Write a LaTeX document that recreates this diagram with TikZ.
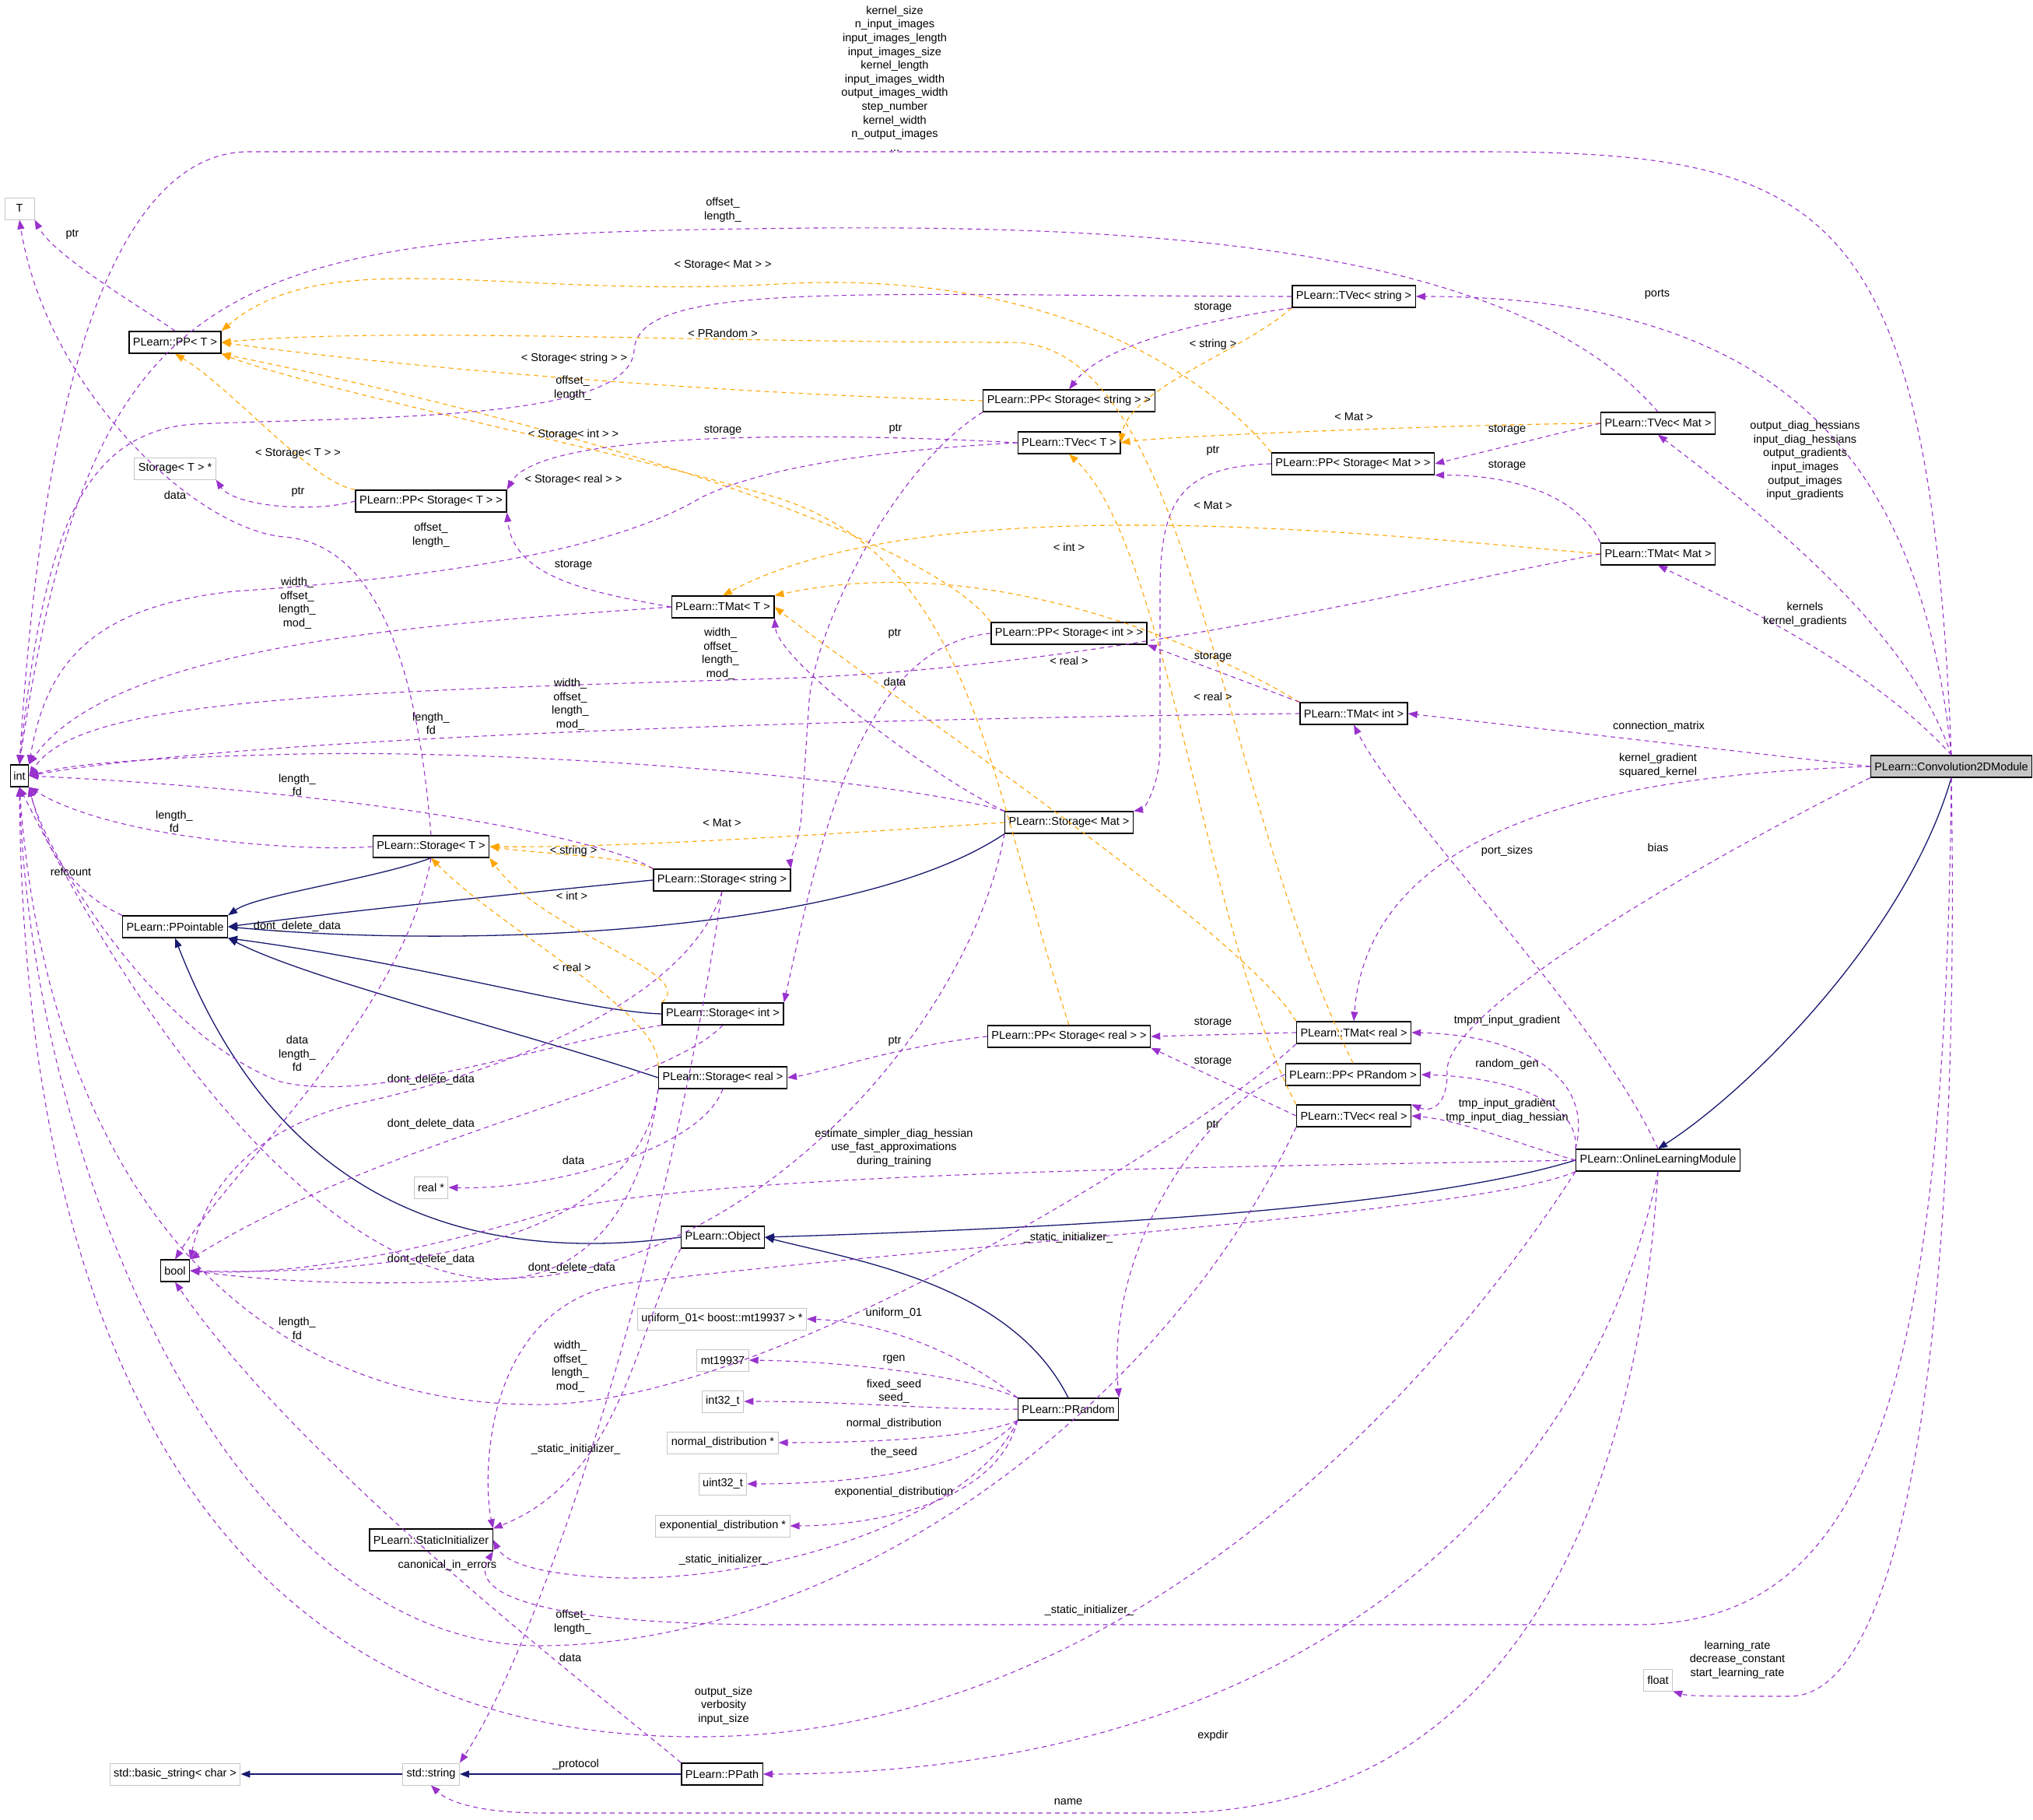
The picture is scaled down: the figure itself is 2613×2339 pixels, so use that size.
\documentclass[tikz,border=0pt]{standalone}
\usepackage{fontspec}
\setmainfont{Liberation Sans}
\usetikzlibrary{arrows.meta}
\definecolor{mc}{RGB}{153,50,204}
\definecolor{oc}{RGB}{255,165,0}
\definecolor{nc}{RGB}{25,25,112}
\newcommand\fs{\fontsize{14.5}{17.6}\selectfont}
\begin{document}
\begin{tikzpicture}[x=1pt,y=-1pt,
 box/.style={draw=black,line width=1.3pt,fill=white,inner sep=5pt,minimum height=28pt,font=\fs},
 gbox/.style={box,draw=gray!45,line width=1pt},
 mem/.style={draw=mc,line width=1.1pt,dash pattern=on 6pt off 5pt,-{Triangle[length=12pt,width=9pt,fill=mc]}},
 tpl/.style={draw=oc,line width=1.1pt,dash pattern=on 6pt off 5pt,-{Triangle[length=12pt,width=9pt,fill=oc]}},
 inh/.style={draw=nc,line width=1.3pt,-{Triangle[length=12pt,width=9pt,fill=nc]}},
 lb/.style={font=\fs,align=center,inner sep=0pt}]
\useasboundingbox[fill=white] (0,0) rectangle (2613,2339);
% nodes
\node[gbox,inner sep=4pt,minimum width=38pt] (T) at (25,268) {T};
\node[box] (ppT) at (225,440) {PLearn::PP< T >};
\node[gbox] (ptrT) at (225,602) {Storage< T > *};
\node[box] (ppsT) at (554,644) {PLearn::PP< Storage< T > >};
\node[box,inner sep=4pt] (int) at (25,997) {int};
\node[box] (pptbl) at (225,1191) {PLearn::PPointable};
\node[box] (bool) at (225,1633) {bool};
\node[box] (SI) at (554,1979) {PLearn::StaticInitializer};
\node[gbox] (bstr) at (225,2280) {std::basic\_string< char >};
\node[gbox] (str) at (554,2280) {std::string};
\node[box] (ppath) at (928,2280) {PLearn::PPath};
\node[box] (stT) at (554,1088) {PLearn::Storage< T >};
\node[box] (ststr) at (928,1131) {PLearn::Storage< string >};
\node[box] (stint) at (929,1303) {PLearn::Storage< int >};
\node[box] (streal) at (929,1385) {PLearn::Storage< real >};
\node[gbox] (realp) at (554,1526) {real *};
\node[box] (obj) at (929,1590) {PLearn::Object};
\node[gbox] (u01) at (928,1695) {uniform\_01< boost::mt19937 > *};
\node[gbox] (mt) at (929,1748) {mt19937};
\node[gbox] (i32) at (929,1801) {int32\_t};
\node[gbox] (nd) at (929,1854) {normal\_distribution *};
\node[gbox] (u32) at (929,1907) {uint32\_t};
\node[gbox] (ed) at (929,1961) {exponential\_distribution *};
\node[box] (prand) at (1373,1811) {PLearn::PRandom};
\node[box] (tmatT) at (929,780) {PLearn::TMat< T >};
\node[box] (ppsint) at (1374,814) {PLearn::PP< Storage< int > >};
\node[box] (stmat) at (1374,1057) {PLearn::Storage< Mat >};
\node[box] (ppsreal) at (1374,1332) {PLearn::PP< Storage< real > >};
\node[box] (ppsstr) at (1374,515) {PLearn::PP< Storage< string > >};
\node[box] (tvT) at (1374,569) {PLearn::TVec< T >};
\node[box] (tvstr) at (1740,381) {PLearn::TVec< string >};
\node[box] (ppsmat) at (1739,596) {PLearn::PP< Storage< Mat > >};
\node[box] (tvmat) at (2131,544) {PLearn::TVec< Mat >};
\node[box] (tmatmat) at (2131,712) {PLearn::TMat< Mat >};
\node[box] (tmatint) at (1740,917) {PLearn::TMat< int >};
\node[box] (tmatreal) at (1740,1327) {PLearn::TMat< real >};
\node[box] (ppPR) at (1739,1381) {PLearn::PP< PRandom >};
\node[box] (tvreal) at (1740,1434) {PLearn::TVec< real >};
\node[box] (olm) at (2131,1491) {PLearn::OnlineLearningModule};
\node[box,fill=gray!45] (conv) at (2508,985) {PLearn::Convolution2DModule};
\node[gbox] (float) at (2131,2159) {float};
% navy inheritance
\draw[inh] (stT.south) .. controls (480,1130) and (330,1150) .. (pptbl.north east);
\draw[inh] (ststr.west) .. controls (700,1145) and (450,1170) .. (pptbl.east);
\draw[inh] (stmat.south west) .. controls (1100,1200) and (600,1220) .. (pptbl.east);
\draw[inh] (stint.west) .. controls (750,1300) and (550,1240) .. (pptbl.south east);
\draw[inh] (streal.west) .. controls (650,1320) and (400,1260) .. (pptbl.south east);
\draw[inh] (obj.west) .. controls (500,1640) and (320,1450) .. (pptbl.south);
\draw[inh] (prand.north) .. controls (1300,1650) and (1100,1620) .. (obj.east);
\draw[inh] (olm.west) .. controls (1800,1560) and (1300,1580) .. (obj.east);
\draw[inh] (conv.south) .. controls (2450,1200) and (2250,1400) .. (olm.north);
\draw[inh] (str.west) -- (bstr.east);
\draw[inh] (ppath.west) -- (str.east);
\node[lb] at (740,2268) {\_protocol};
% orange templates
\draw[tpl] (ppsstr.west) .. controls (900,505) and (500,470) .. (ppT.east);
\node[lb] at (738,461) {< Storage< string > >};
\draw[tpl] (ppPR.north) .. controls (1560,1000) and (1530,440) .. (1300,440) .. controls (900,440) and (500,420) .. (ppT.east);
\node[lb] at (929,428) {< PRandom >};
\draw[tpl] (ppsmat.north west) .. controls (1550,480) and (1350,345) .. (1000,365) .. controls (650,385) and (420,310) .. (ppT.north east);
\node[lb] at (929,341) {< Storage< Mat > >};
\draw[tpl] (ppsint.north west) .. controls (1200,700) and (800,560) .. (ppT.south east);
\node[lb] at (737,559) {< Storage< int > >};
\draw[tpl] (ppsreal.north) .. controls (1270,1000) and (1250,720) .. (1000,640) .. controls (800,580) and (400,500) .. (ppT.south east);
\node[lb] at (737,617) {< Storage< real > >};
\draw[tpl] (ppsT.north west) .. controls (400,620) and (300,500) .. (ppT.south);
\node[lb] at (383,583) {< Storage< T > >};
\draw[tpl] (tvstr.south west) .. controls (1600,450) and (1450,500) .. (tvT.east);
\node[lb] at (1559,443) {< string >};
\draw[tpl] (tvmat.west) .. controls (1900,545) and (1500,560) .. (tvT.east);
\node[lb] at (1740,536) {< Mat >};
\draw[tpl] (tvreal.north west) .. controls (1550,1200) and (1500,700) .. (tvT.south);
\node[lb] at (1559,895) {< real >};
\draw[tpl] (tmatmat.west) .. controls (1800,690) and (1200,620) .. (tmatT.north);
\node[lb] at (1559,650) {< Mat >};
\draw[tpl] (tmatint.north west) .. controls (1600,860) and (1300,700) .. (tmatT.north east);
\node[lb] at (1374,703) {< int >};
\draw[tpl] (tmatreal.north west) .. controls (1600,1200) and (1150,900) .. (tmatT.east);
\node[lb] at (1374,849) {< real >};
\draw[tpl] (stmat.west) .. controls (1100,1070) and (800,1090) .. (stT.east);
\node[lb] at (928,1058) {< Mat >};
\draw[tpl] (ststr.north west) .. controls (800,1100) and (700,1098) .. (stT.east);
\node[lb] at (737,1094) {< string >};
\draw[tpl] (stint.north west) .. controls (900,1250) and (700,1200) .. (stT.south east);
\node[lb] at (735,1151) {< int >};
\draw[tpl] (streal.north west) .. controls (850,1300) and (650,1200) .. (stT.south);
\node[lb] at (735,1243) {< real >};
% purple members
\draw[mem] (conv.north) .. controls (2480,260) and (2350,195) .. (1900,195) -- (320,195) .. controls (180,195) and (60,400) .. (int.north);
\node[lb] at (1150,101) {kernel\_size\\n\_input\_images\\input\_images\_length\\input\_images\_size\\kernel\_length\\input\_images\_width\\output\_images\_width\\step\_number\\kernel\_width\\n\_output\_images\\...};
\draw[mem] (ppT.north) .. controls (190,400) and (70,330) .. (T.south east);
\node[lb] at (93,301) {ptr};
\draw[mem] (stT.north) .. controls (540,900) and (500,700) .. (365,690) .. controls (250,680) and (60,500) .. (T.south);
\node[lb] at (225,636) {data};
\draw[mem] (tvmat.north) .. controls (1950,320) and (1500,290) .. (1050,293) .. controls (300,300) and (120,330) .. (int.north);
\node[lb] at (929,270) {offset\_\\length\_};
\draw[mem] (conv.north) .. controls (2470,600) and (2300,381) .. (tvstr.east);
\node[lb] at (2130,378) {ports};
\draw[mem] (tvstr.south west) .. controls (1560,410) and (1420,440) .. (ppsstr.north);
\node[lb] at (1559,395) {storage};
\draw[mem] (tvstr.west) .. controls (1100,380) and (820,360) .. (815,450) .. controls (810,540) and (500,535) .. (250,545) .. controls (100,555) and (55,700) .. (int.north);
\node[lb] at (736,499) {offset\_\\length\_};
\draw[mem] (tvT.west) .. controls (1200,575) and (1000,590) .. (900,640) .. controls (800,700) and (600,740) .. (300,760) .. controls (120,780) and (60,850) .. (int.north east);
\node[lb] at (554,688) {offset\_\\length\_};
\draw[mem] (tvT.west) .. controls (1150,560) and (700,545) .. (ppsT.north east);
\node[lb] at (929,553) {storage};
\draw[mem] (conv.north) .. controls (2450,800) and (2250,650) .. (tvmat.south);
\node[lb] at (2320,592) {output\_diag\_hessians\\input\_diag\_hessians\\output\_gradients\\input\_images\\output\_images\\input\_gradients};
\draw[mem] (tvmat.west) -- (ppsmat.east);
\node[lb] at (1937,552) {storage};
\draw[mem] (conv.north) .. controls (2400,850) and (2200,760) .. (tmatmat.south);
\node[lb] at (2320,790) {kernels\\kernel\_gradients};
\draw[mem] (tmatmat.north west) .. controls (2030,640) and (1950,610) .. (ppsmat.south east);
\node[lb] at (1937,598) {storage};
\draw[mem] (tmatmat.west) .. controls (1800,760) and (1400,860) .. (1000,872) .. controls (400,890) and (100,900) .. (int.east);
\node[lb] at (926,840) {width\_\\offset\_\\length\_\\mod\_};
\draw[mem] (ppsmat.west) .. controls (1520,600) and (1491,640) .. (1491,760) -- (1491,960) .. controls (1491,1010) and (1470,1040) .. (stmat.north east);
\node[lb] at (1559,579) {ptr};
\draw[mem] (ppsT.west) .. controls (400,660) and (300,650) .. (ptrT.south east);
\node[lb] at (383,632) {ptr};
\draw[mem] (tmatT.west) .. controls (750,760) and (660,740) .. (ppsT.south east);
\node[lb] at (737,726) {storage};
\draw[mem] (tmatT.west) .. controls (600,800) and (150,820) .. (int.north east);
\node[lb] at (382,775) {width\_\\offset\_\\length\_\\mod\_};
\draw[mem] (ppsstr.south west) .. controls (1150,600) and (1050,800) .. (1040,900) -- (1030,1050) .. controls (1025,1090) and (1015,1105) .. (ststr.north east);
\node[lb] at (1151,551) {ptr};
\draw[mem] (ppsint.west) .. controls (1100,830) and (1050,1100) .. (stint.north east);
\node[lb] at (1150,814) {ptr};
\draw[mem] (tmatint.north west) -- (ppsint.south east);
\node[lb] at (1559,844) {storage};
\draw[mem] (conv.west) -- (tmatint.east);
\node[lb] at (2132,934) {connection\_matrix};
\draw[mem] (tmatint.west) .. controls (1000,925) and (300,950) .. (int.east);
\node[lb] at (733,905) {width\_\\offset\_\\length\_\\mod\_};
\draw[mem] (stmat.north west) .. controls (1150,1000) and (650,960) .. (350,970) .. controls (150,975) and (80,985) .. (int.east);
\node[lb] at (554,930) {length\_\\fd};
\draw[mem] (stmat.north west) .. controls (1200,1000) and (1000,850) .. (tmatT.south east);
\node[lb] at (1150,876) {data};
\draw[mem] (stmat.south west) .. controls (1250,1300) and (1000,1600) .. (700,1640) .. controls (450,1660) and (300,1640) .. (bool.east);
\node[lb] at (554,1619) {dont\_delete\_data};
\draw[mem] (stT.west) .. controls (400,1095) and (150,1080) .. (int.south east);
\node[lb] at (224,1056) {length\_\\fd};
\draw[mem] (stT.south) .. controls (520,1300) and (300,1500) .. (bool.north);
\node[lb] at (382,1191) {dont\_delete\_data};
\draw[mem] (ststr.north west) .. controls (780,1080) and (500,1020) .. (int.east);
\node[lb] at (382,1009) {length\_\\fd};
\draw[mem] (ststr.south) .. controls (880,1300) and (600,1390) .. (450,1420) .. controls (300,1460) and (260,1550) .. (bool.north east);
\node[lb] at (554,1388) {dont\_delete\_data};
\draw[mem] (ststr.south) .. controls (860,1600) and (700,2100) .. (str.north east);
\node[lb] at (733,2130) {data};
\draw[mem] (stint.south west) .. controls (700,1340) and (480,1420) .. (360,1390) .. controls (200,1330) and (60,1100) .. (int.south east);
\node[lb] at (382,1354) {data\\length\_\\fd};
\draw[mem] (stint.south) .. controls (850,1400) and (500,1460) .. (bool.north east);
\node[lb] at (554,1445) {dont\_delete\_data};
\draw[mem] (streal.south west) .. controls (820,1600) and (500,1640) .. (bool.east);
\node[lb] at (735,1630) {dont\_delete\_data};
\draw[mem] (streal.south west) .. controls (800,1780) and (400,1760) .. (int.south);
\node[lb] at (382,1707) {length\_\\fd};
\draw[mem] (streal.south) .. controls (900,1480) and (700,1530) .. (realp.east);
\node[lb] at (737,1491) {data};
\draw[mem] (tmatreal.south west) .. controls (1550,1450) and (1000,1800) .. (700,1805) .. controls (300,1810) and (60,1500) .. (int.south);
\node[lb] at (733,1756) {width\_\\offset\_\\length\_\\mod\_};
\draw[mem] (tvreal.south west) .. controls (1500,1800) and (1100,2110) .. (700,2115) .. controls (300,2120) and (40,1500) .. (int.south);
\node[lb] at (736,2085) {offset\_\\length\_};
\draw[mem] (olm.south west) .. controls (1900,1700) and (1500,2230) .. (900,2232) .. controls (200,2235) and (30,1600) .. (int.south);
\node[lb] at (930,2192) {output\_size\\verbosity\\input\_size};
\draw[mem] (pptbl.north west) .. controls (100,1150) and (60,1100) .. (int.south east);
\node[lb] at (91,1120) {refcount};
\draw[mem] (ppath.north west) .. controls (800,2200) and (400,1900) .. (bool.south);
\node[lb] at (575,2012) {canonical\_in\_errors};
\draw[mem] (olm.west) .. controls (1600,1500) and (900,1505) .. (700,1560) .. controls (500,1620) and (350,1640) .. (bool.east);
\node[lb] at (1149,1475) {estimate\_simpler\_diag\_hessian\\use\_fast\_approximations\\during\_training};
\draw[mem] (olm.south west) .. controls (1900,1560) and (1200,1600) .. (800,1650) .. controls (620,1680) and (620,1900) .. (SI.north east);
\node[lb] at (1373,1591) {\_static\_initializer\_};
\draw[mem] (obj.south west) .. controls (820,1700) and (800,1900) .. (SI.north east);
\node[lb] at (740,1863) {\_static\_initializer\_};
\draw[mem] (prand.south west) .. controls (1250,1950) and (1000,2030) .. (800,2028) .. controls (700,2025) and (650,2010) .. (SI.east);
\node[lb] at (930,2005) {\_static\_initializer\_};
\draw[mem] (conv.south) .. controls (2500,1800) and (2400,2088) .. (2100,2088) -- (1000,2088) .. controls (700,2088) and (600,2050) .. (SI.south east);
\node[lb] at (1400,2070) {\_static\_initializer\_};
\draw[mem] (prand.north west) .. controls (1250,1750) and (1150,1700) .. (u01.east);
\node[lb] at (1149,1688) {uniform\_01};
\draw[mem] (prand.north west) .. controls (1250,1770) and (1100,1750) .. (mt.east);
\node[lb] at (1149,1747) {rgen};
\draw[mem] (prand.west) .. controls (1200,1812) and (1100,1801) .. (i32.east);
\node[lb] at (1149,1788) {fixed\_seed\\seed\_};
\draw[mem] (prand.south west) .. controls (1250,1850) and (1100,1854) .. (nd.east);
\node[lb] at (1149,1830) {normal\_distribution};
\draw[mem] (prand.south west) .. controls (1250,1890) and (1100,1907) .. (u32.east);
\node[lb] at (1149,1867) {the\_seed};
\draw[mem] (prand.south west) .. controls (1280,1940) and (1100,1961) .. (ed.east);
\node[lb] at (1149,1918) {exponential\_distribution};
\draw[mem] (ppPR.west) .. controls (1550,1420) and (1420,1600) .. (prand.north east);
\node[lb] at (1559,1446) {ptr};
\draw[mem] (olm.north west) .. controls (2030,1420) and (1950,1385) .. (ppPR.east);
\node[lb] at (1937,1368) {random\_gen};
\draw[mem] (olm.north west) .. controls (2050,1380) and (1950,1330) .. (tmatreal.east);
\node[lb] at (1937,1312) {tmpm\_input\_gradient};
\draw[mem] (olm.west) .. controls (1950,1470) and (1880,1440) .. (tvreal.east);
\node[lb] at (1937,1428) {tmp\_input\_gradient\\tmp\_input\_diag\_hessian};
\draw[mem] (conv.west) .. controls (2100,995) and (1760,1050) .. (tmatreal.north);
\node[lb] at (2131,984) {kernel\_gradient\\squared\_kernel};
\draw[mem] (conv.south west) .. controls (2200,1100) and (1850,1300) .. (1860,1380) .. controls (1860,1420) and (1840,1430) .. (tvreal.north east);
\node[lb] at (2131,1089) {bias};
\draw[mem] (olm.north) .. controls (2050,1300) and (1800,1050) .. (tmatint.south);
\node[lb] at (1937,1094) {port\_sizes};
\draw[mem] (tmatreal.west) -- (ppsreal.east);
\node[lb] at (1559,1314) {storage};
\draw[mem] (tvreal.west) -- (ppsreal.south east);
\node[lb] at (1559,1364) {storage};
\draw[mem] (ppsreal.west) .. controls (1150,1345) and (1050,1380) .. (streal.east);
\node[lb] at (1150,1338) {ptr};
\draw[mem] (olm.south) .. controls (2050,1900) and (1700,2280) .. (ppath.east);
\node[lb] at (1559,2231) {expdir};
\draw[mem] (olm.south) .. controls (2100,2000) and (1900,2330) .. (1500,2330) -- (700,2330) .. controls (600,2330) and (570,2310) .. (str.south);
\node[lb] at (1373,2316) {name};
\draw[mem] (conv.south) .. controls (2520,1700) and (2450,2180) .. (2300,2180) .. controls (2200,2180) and (2170,2180) .. (float.south east);
\node[lb] at (2233,2133) {learning\_rate\\decrease\_constant\\start\_learning\_rate};
\end{tikzpicture}
\end{document}
